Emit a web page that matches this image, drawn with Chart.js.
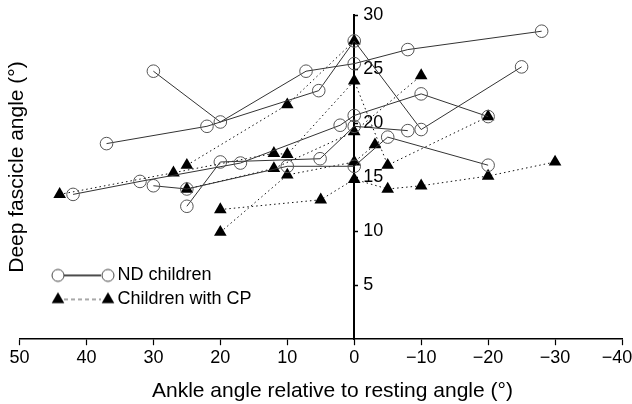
<!DOCTYPE html>
<html>
<head>
<meta charset="utf-8">
<script src="https://cdn.jsdelivr.net/npm/chart.js@4"></script>
<style>
  html, body { margin: 0; padding: 0; background: #fff; }
  #wrap { width: 632px; height: 404px; position: relative; }
</style>
</head>
<body>
<div id="wrap"><canvas id="fascicle"></canvas></div>
<script>
    const FONT = "'Liberation Sans', Arial, sans-serif";

    // x = ankle angle relative to rest (deg), y = deep fascicle angle (deg)
    // typically developing children (open circles, solid lines)
    const nd1 = [[37, 18.1], [22, 19.7], [5.3, 23.0], [0, 27.6], [-10, 19.4], [-25, 25.2]];
    const nd2 = [[30, 24.8], [20, 20.1], [7.2, 24.8], [0, 25.5], [-8, 26.8], [-28, 28.5]];
    const nd3 = [[42, 13.4], [32, 14.6], [17, 16.3], [2.1, 19.8], [0, 20.7], [-10, 22.7], [-20, 20.6]];
    const nd4 = [[25, 12.3], [20, 16.4], [5.1, 16.7], [0, 19.7], [-8, 19.3]];
    const nd5 = [[30, 14.2], [25, 13.9], [10, 16.0], [0, 16.0], [-5, 18.7], [-20, 16.1]];

    // children with cerebral palsy (filled triangles, dotted lines)
    const cp1 = [[44, 13.4], [27, 15.4], [12, 17.2], [10, 17.1], [0, 23.9], [-5, 16.1], [-20, 20.6]];
    const cp2 = [[25, 16.1], [10, 21.7], [0, 27.6]];
    const cp3 = [[25, 13.9], [12, 15.8], [0, 19.2], [-10, 24.4]];
    const cp4 = [[20, 12.0], [5, 12.9], [0, 14.8], [-5, 13.9], [-10, 14.2], [-20, 15.1], [-30, 16.4]];
    const cp5 = [[20, 9.9], [10, 15.2], [0, 16.4], [-3.1, 18.0]];

    const ndGroups = [nd1, nd2, nd3, nd4, nd5];
    const cpGroups = [cp1, cp2, cp3, cp4, cp5];

    const xTicks = [50, 40, 30, 20, 10, 0, -10, -20, -30, -40];
    const yTicks = [5, 10, 15, 20, 25, 30];

    function toPoints(pairs) {
    return pairs.map(p => ({x: p[0], y: p[1]}));
}

    // legend swatches: marker - line - marker
    function legendSwatch(kind) {
    const c = document.createElement('canvas');
    c.width = 100;
    c.height = 20;
    const g = c.getContext('2d');
    g.strokeStyle = kind === 'nd' ? '#111' : '#555';
    g.lineWidth = kind === 'nd' ? 1.5 : 1.2;
    if (kind === 'cp') g.setLineDash([4, 3]);
    g.beginPath();
    g.moveTo(47, 10);
    g.lineTo(84, 10);
    g.stroke();
    g.setLineDash([]);
    [41, 91].forEach(cx => {
    g.beginPath();
    if (kind === 'nd') {
    g.arc(cx, 10, 6, 0, Math.PI * 2);
    g.fillStyle = '#fff';
    g.fill();
    g.strokeStyle = '#444';
    g.lineWidth = 1;
    g.stroke();
} else {
    g.moveTo(cx, 10 - 7.3);
    g.lineTo(cx + 6.3, 10 + 3.65);
    g.lineTo(cx - 6.3, 10 + 3.65);
    g.closePath();
    g.fillStyle = '#000';
    g.fill();
}
});
    return c;
}

    const ndSwatch = legendSwatch('nd');
    const cpSwatch = legendSwatch('cp');

    const datasets = [];
    ndGroups.forEach((pairs, i) => {
    datasets.push({
    label: 'ND ' + (i + 1),
    data: toPoints(pairs),
    showLine: true,
    borderColor: '#333',
    borderWidth: 1,
    pointStyle: 'circle',
    pointRadius: 6.3,
    pointBackgroundColor: 'rgba(255,255,255,0)',
    pointBorderColor: '#555',
    pointBorderWidth: 1
});
});
    cpGroups.forEach((pairs, i) => {
    datasets.push({
    label: 'CP ' + (i + 1),
    data: toPoints(pairs),
    showLine: true,
    borderColor: '#111',
    borderWidth: 1,
    borderDash: [1.5, 3],
    pointStyle: 'triangle',
    pointRadius: 7.3,
    pointBackgroundColor: '#000',
    pointBorderColor: '#000',
    pointBorderWidth: 0
});
});

    // y axis title, drawn at the far left like the original figure
    const yTitlePlugin = {
    id: 'yTitle',
    afterDraw(chart) {
    const ctx = chart.ctx;
    ctx.save();
    ctx.translate(17, 167);
    ctx.rotate(-Math.PI / 2);
    ctx.font = '21px ' + FONT;
    ctx.fillStyle = '#000';
    ctx.textAlign = 'center';
    ctx.textBaseline = 'middle';
    ctx.fillText('Deep fascicle angle (°)', 0, 0);
    ctx.restore();
}
};

    new Chart(document.getElementById('fascicle').getContext('2d'), {
    type: 'scatter',
    data: {datasets: datasets},
    plugins: [yTitlePlugin],
    options: {
    responsive: true,
    maintainAspectRatio: false,
    animation: false,
    layout: {padding: {left: 19.5, top: 15, right: 10, bottom: 0}},
    plugins: {
    tooltip: {enabled: false},
    legend: {
    position: 'chartArea',
    align: 'start',
    title: {display: true, text: '', padding: {top: 246, bottom: 0}},
    labels: {
    usePointStyle: true,
    pointStyleWidth: 83,
    padding: 6,
    color: '#000',
    font: {family: FONT, size: 18},
    generateLabels: () => [
{text: 'ND children', pointStyle: ndSwatch, fillStyle: '#fff', strokeStyle: '#000', lineWidth: 0, hidden: false, fontColor: '#000'},
{text: 'Children with CP', pointStyle: cpSwatch, fillStyle: '#000', strokeStyle: '#000', lineWidth: 0, hidden: false, fontColor: '#000'}
]
}
}
},
    scales: {
    x: {
    type: 'linear',
    position: 'bottom',
    reverse: true,
    min: -40,
    max: 50,
    afterBuildTicks: scale => { scale.ticks = xTicks.map(v => ({value: v})); },
    afterFit: scale => { scale.paddingRight = 10; },
    grid: {drawOnChartArea: false, drawTicks: true, tickLength: 6, tickColor: '#000', tickWidth: 1.2},
    border: {display: true, color: '#000', width: 1.5},
    ticks: {
    color: '#000',
    padding: 2,
    maxRotation: 0,
    autoSkip: false,
    font: {family: FONT, size: 18},
    callback: v => (v < 0 ? '\u2212' + (-v) : String(v)) + (v === -40 ? '  ' : '')
},
    title: {
    display: true,
    // leading spaces nudge the centred title right, as in the original
    text: '    Ankle angle relative to resting angle (°)',
    color: '#000',
    font: {family: FONT, size: 21},
    padding: {top: 8, bottom: 0}
}
},
    // the vertical axis sits at x = 0: line and tick marks pointing right
    y: {
    type: 'linear',
    position: {x: 0},
    min: 0,
    max: 30,
    afterBuildTicks: scale => { scale.ticks = yTicks.map(v => ({value: v})); },
    grid: {drawOnChartArea: false, drawTicks: true, tickLength: -5, tickColor: '#000', tickWidth: 1.5},
    border: {display: true, color: '#000', width: 2},
    ticks: {display: false}
},
    // labels of that axis, right-aligned a little to the right of the line
    yLabels: {
    type: 'linear',
    axis: 'y',
    position: {x: -4.33},
    min: 0,
    max: 30,
    afterBuildTicks: scale => { scale.ticks = yTicks.map(v => ({value: v})); },
    grid: {display: false},
    border: {display: false},
    ticks: {
    color: '#000',
    autoSkip: false,
    font: {family: FONT, size: 18},
    callback: v => (v < 10 ? v + '  ' : String(v))
}
}
}
}
});
</script>
</body>
</html>
